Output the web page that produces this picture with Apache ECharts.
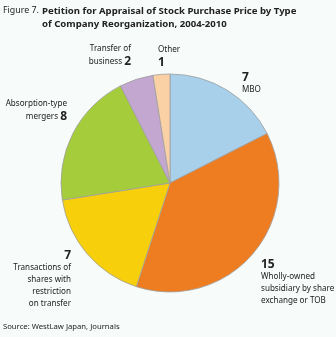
<!DOCTYPE html>
<html><head><meta charset="utf-8">
<script src="https://cdn.jsdelivr.net/npm/echarts@6/dist/echarts.min.js"></script>
<style>html,body{margin:0;padding:0;background:#f7fbf9;}#c{width:336px;height:337px;}</style>
</head><body><div id="c"></div>
<script>
var categories = ['MBO', 'Wholly-owned\nsubsidiary by share\nexchange or TOB', 'Transactions of\nshares with\nrestriction\non transfer', 'Absorption-type\nmergers', 'Transfer of\nbusiness', 'Other'];
var values = [7, 15, 7, 8, 2, 1];
var colors = ['#a8d0ea', '#ee7d22', '#f8cf0b', '#a5cc3b', '#c3a7d0', '#f9d1a5'];

// label anchor layout (styles/positions, not data)
var labelPos = [
  {x: 242, y: 71, align: 'left'},
  {x: 261, y: 258, align: 'left'},
  {x: 71, y: 249, align: 'right'},
  {x: 67, y: 98, align: 'right'},
  {x: 131, y: 43, align: 'right'},
  {x: 158, y: 44, align: 'left'}
];

function fmt(p) {
  var i = p.dataIndex, n = categories[i], v = p.value;
  if (i === 0 || i === 1 || i === 2) {
    return '{v|' + v + '}\n' + n.split('\n').map(function (s) { return '{t|' + s + '}'; }).join('\n');
  }
  if (i === 5) return '{t|' + n + '}\n{v|' + v + '}';
  var lines = n.split('\n');
  var last = lines.pop();
  return lines.map(function (s) { return '{t|' + s + '}'; }).concat(['{t|' + last + ' }{v|' + v + '}']).join('\n');
}

var chart = echarts.init(document.getElementById('c'), null, {renderer: 'canvas'});
chart.setOption({
  backgroundColor: '#f7fbf9',
  animation: false,
  title: [
    {text: 'Figure 7.', left: 3, top: 5.5, padding: 0, textStyle: {fontFamily: 'Noto Sans', fontSize: 8.8, fontWeight: 'normal', color: '#222'}},
    {text: 'Petition for Appraisal of Stock Purchase Price by Type\nof Company Reorganization, 2004-2010', left: 42, top: 5, padding: 0,
     textStyle: {fontFamily: 'Noto Sans', fontSize: 9.6, fontWeight: 'bold', color: '#222', lineHeight: 13}},
    {text: 'Source: WestLaw Japan, Journals', left: 3, top: 323, padding: 0, textStyle: {fontFamily: 'Noto Sans', fontSize: 7.7, fontWeight: 'normal', color: '#222'}}
  ],
  series: [{
    type: 'pie',
    center: [170, 183],
    radius: [0, 109],
    startAngle: 90,
    clockwise: true,
    data: values.map(function (v, i) { return {value: v, name: categories[i], itemStyle: {color: colors[i]}}; }),
    itemStyle: {borderColor: '#a0a0a0', borderWidth: 0.8},
    labelLine: {show: false},
    label: {
      show: true,
      position: 'outside',
      alignTo: 'none',
      overflow: 'none',
      width: 200,
      formatter: fmt,
      fontFamily: 'Noto Sans',
      rich: {
        v: {fontSize: 12, fontWeight: 'bold', color: '#222', lineHeight: 13, fontFamily: 'Noto Sans'},
        t: {fontSize: 8.1, color: '#222', lineHeight: 12, fontFamily: 'Noto Sans'}
      }
    },
    labelLayout: function (p) {
      var lp = labelPos[p.dataIndex];
      return {x: lp.x, y: lp.y, align: lp.align, verticalAlign: 'top', hideOverlap: false, moveOverlap: null};
    },
    emphasis: {disabled: true}
  }]
});
</script></body></html>
